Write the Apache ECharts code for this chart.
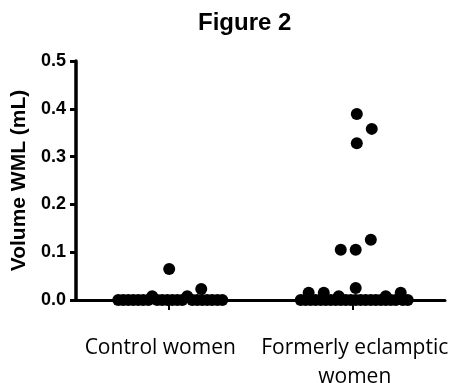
<!DOCTYPE html>
<html>
<head>
<meta charset="utf-8">
<script src="https://cdn.jsdelivr.net/npm/echarts@6/dist/echarts.min.js"></script>
<style>html,body{margin:0;padding:0;background:#fff}#c{width:455px;height:383px}</style>
</head>
<body>
<div id="c"></div>
<script>
// Categories and tick labels
const categories = ['Control women', 'Formerly eclamptic\nwomen'];
const yTicks = [0.0, 0.1, 0.2, 0.3, 0.4, 0.5];

// Control women: horizontal spread (offset from category centre, in category widths) and WML volume (mL)
const controlOffset = [-0.271,-0.244,-0.217,-0.19,-0.163,-0.136,-0.108,-0.087,-0.06,-0.033,-0.005,0.022,0.049,0.076,0.103,0.13,0.157,0.211,0.238,0.266,0.293,0.005,0.179,0.184];
const controlValue  = [0,0,0,0,0,0,0,0.008,0,0,0,0,0,0,0.008,0,0,0,0,0,0,0.065,0.023,0];

// Formerly eclamptic women
const eclampticOffset = [-0.282,-0.255,-0.228,-0.201,-0.173,-0.146,-0.119,-0.092,-0.065,-0.038,-0.011,0.043,0.07,0.098,0.125,0.152,0.206,0.233,0.271,0.298,-0.239,-0.157,0.26,0.016,-0.076,0.179,0.022,0.103,0.022,0.098,-0.065,0.016,0.016,0.179];
const eclampticValue  = [0,0,0,0,0,0,0,0,0,0,0,0,0,0,0,0,0,0,0,0,0.015,0.015,0.015,0.025,0.008,0.008,0.389,0.358,0.328,0.126,0.105,0.105,0,0];

const groups = [
  {offset: controlOffset, value: controlValue},
  {offset: eclampticOffset, value: eclampticValue}
];

const scatterData = [];
groups.forEach((g, gi) => {
  g.value.forEach((v, i) => scatterData.push([gi + 0.5 + g.offset[i], v]));
});

const chart = echarts.init(document.getElementById('c'), null, {renderer: 'canvas'});
chart.setOption({
  animation: false,
  backgroundColor: '#fff',
  title: {
    text: 'Figure 2',
    left: 193, top: 6,
    textStyle: {fontFamily: 'Liberation Sans', fontWeight: 'bold', fontSize: 24, color: '#000'}
  },
  grid: {left: 76, right: 10, top: 61, bottom: 83, containLabel: false, outerBoundsMode: 'none'},
  xAxis: [
    {
      type: 'category', gridIndex: 0,
      data: [
        {value: categories[0], textStyle: {padding: [0, 16, 0, 0]}},
        {value: categories[1], textStyle: {padding: [0, 0, 0, 4]}}
      ],
      axisLine: {lineStyle: {color: '#000', width: 3}},
      axisTick: {show: true, alignWithLabel: true, length: 10, lineStyle: {color: '#000', width: 2}},
      axisLabel: {color: '#000', fontFamily: 'Open Sans', fontSize: 21, margin: 34, lineHeight: 29, interval: 0}
    },
    {
      type: 'value', min: 0, max: 2, show: false, gridIndex: 0
    }
  ],
  yAxis: {
    type: 'value', min: 0, max: 0.5, interval: 0.1,
    name: 'Volume WML (mL)', nameLocation: 'middle', nameGap: 46,
    nameTextStyle: {fontFamily: 'Liberation Sans', fontWeight: 'bold', fontSize: 21, color: '#000'},
    axisLine: {show: true, lineStyle: {color: '#000', width: 3.5}},
    axisTick: {show: true, length: 6, lineStyle: {color: '#000', width: 3}},
    splitLine: {show: false},
    axisLabel: {color: '#000', fontFamily: 'Liberation Sans', fontWeight: 'bold', fontSize: 18, margin: 10,
      formatter: v => yTicks.some(t => Math.abs(t - v) < 1e-9) ? v.toFixed(1) : ''}
  },
  series: [{
    type: 'scatter', xAxisIndex: 1, data: scatterData,
    symbol: 'circle', symbolSize: 12,
    itemStyle: {color: '#000', opacity: 1}, z: 5, clip: false
  }]
});
</script>
</body>
</html>
